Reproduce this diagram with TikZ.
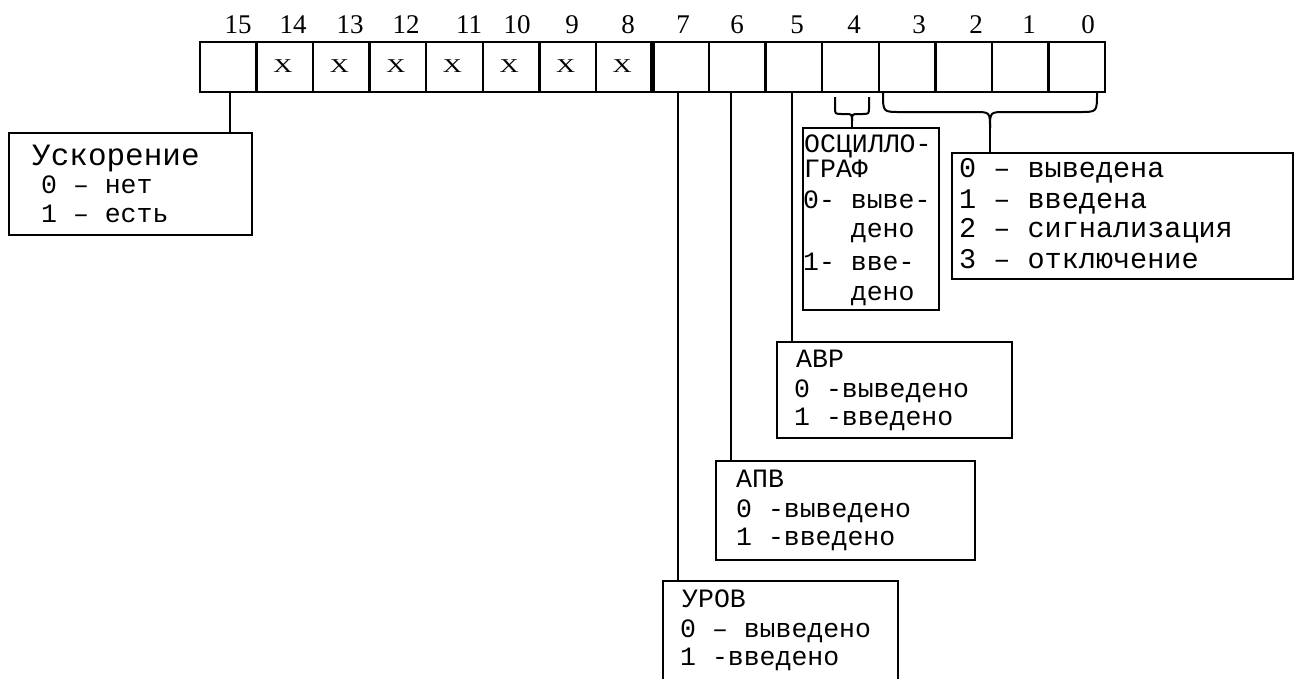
\documentclass[tikz,border=0pt]{standalone}
\usepackage{fontspec}
\usepackage{graphicx}
\setmainfont{Liberation Serif}
\newfontfamily\cour{Liberation Mono}
\usetikzlibrary{calc}
\tikzset{
  cell/.style={draw, line width=2.4pt, minimum width=56.5625pt, minimum height=50pt, inner sep=0pt, outer sep=0pt},
  box/.style={draw, line width=2pt, inner sep=0pt, outer sep=0pt, anchor=north west},
  conn/.style={line width=2pt},
  brace/.style={line width=2pt},
  lbl/.style={font=\cour\fontsize{26.5}{30}\selectfont, anchor=base west, inner sep=0pt},
  biglbl/.style={font=\cour\fontsize{28.5}{30}\selectfont, anchor=base west, inner sep=0pt},
  head/.style={font=\cour\fontsize{31}{34}\selectfont, anchor=base west, inner sep=0pt},
  num/.style={font=\fontsize{27}{30}\selectfont, anchor=base, inner sep=0pt},
  xmark/.style={font=\fontsize{19.6}{24}\selectfont, anchor=base, inner sep=0pt}
}
\begin{document}
\begin{tikzpicture}[x=1pt,y=-1pt]
\useasboundingbox (0,0) rectangle (1301,678);
\clip (0,0) rectangle (1301,678);
% register cells
\foreach \i in {0,...,15} {
  \node[cell] (c\i) at ({200+(15.5-\i)*56.5625},67) {};
}
\draw[line width=5pt] (c8.north east) -- (c8.south east);
% bit numbers
\foreach \i/\x in {15/238,14/293,13/350,12/406,11/469,10/517,9/572,8/628,7/683,6/737,5/797,4/854,3/919,2/976,1/1029,0/1088} {
  \node[num] (n\i) at (\x,33) {\i};
}
% X marks
\foreach \i in {8,...,14} {
  \node[xmark] (x\i) at ({200+(15.5-\i)*56.5625-2},72) {\scalebox{1.35}[1]{X}};
}
% boxes
\node[box, minimum width=243pt, minimum height=102pt] (usk) at (9,133) {};
\node[box, minimum width=136pt, minimum height=182pt] (osc) at (803,128) {};
\node[box, minimum width=341pt, minimum height=126pt] (big) at (952,153) {};
\node[box, minimum width=235pt, minimum height=96pt] (avr) at (777,342) {};
\node[box, minimum width=259pt, minimum height=99pt] (apv) at (716,461) {};
\node[box, minimum width=235pt, minimum height=120pt] (urov) at (663,581) {};
% texts
\node[head] (uskh) at (32,165) {Ускорение};
\node[lbl] (usk0) at (41,193) {0 – нет};
\node[lbl] (usk1) at (41,222) {1 – есть};

\node[lbl] (osc1) at (804,152) {ОСЦИЛЛО-};
\node[lbl] (osc2) at (804,177) {ГРАФ};
\node[lbl] (osc3) at (803,208) {0- выве-};
\node[lbl] (osc4) at (803,237) {\hphantom{0- }дено};
\node[lbl] (osc5) at (803,270) {1- вве-};
\node[lbl] (osc6) at (803,300) {\hphantom{1- }дено};

\node[biglbl] (big0) at (959,177) {0 – выведена};
\node[biglbl] (big1) at (959,208) {1 – введена};
\node[biglbl] (big2) at (959,237) {2 – сигнализация};
\node[biglbl] (big3) at (959,268) {3 – отключение};

\node[lbl] (avrh) at (796,367) {АВР};
\node[lbl] (avr0) at (794,397) {0 -выведено};
\node[lbl] (avr1) at (794,425) {1 -введено};

\node[lbl] (apvh) at (736,487) {АПВ};
\node[lbl] (apv0) at (736,517) {0 -выведено};
\node[lbl] (apv1) at (736,545) {1 -введено};

\node[lbl] (urovh) at (682,607) {УРОВ};
\node[lbl] (urov0) at (680,637) {0 – выведено};
\node[lbl] (urov1) at (680,665) {1 -введено};
% connectors
\coordinate (t15) at ($(c15.south)+(2,0)$);
\coordinate (t7) at ($(c7.south)+(-2.5,0)$);
\coordinate (t6) at ($(c6.south)+(-6,0)$);
\coordinate (t5) at ($(c5.south)+(-2,0)$);
\draw[conn] (t15) -- (t15 |- usk.north);
\draw[conn] (t7) -- (t7 |- urov.north);
\draw[conn] (t6) -- (t6 |- apv.north);
\draw[conn] (t5) -- (t5 |- avr.north);
% small brace over bit 4
\coordinate (tip4) at (852,121);
\draw[brace] (835,97) -- (835,107) .. controls (835,114) .. (842,114) -- (845,114) .. controls (852,114) .. (tip4);
\draw[brace] (869,97) -- (869,107) .. controls (869,114) .. (862,114) -- (859,114) .. controls (852,114) .. (tip4);
\draw[conn] (tip4) -- (tip4 |- osc.north);
% big brace over bits 3..0
\coordinate (tip30) at (990,128);
\draw[brace] (883,93) .. controls (883,112) and (883,112) .. (900,112) -- (974,112) .. controls (990,112) and (990,112) .. (tip30);
\draw[brace] (1097,93) .. controls (1097,112) and (1097,112) .. (1080,112) -- (1006,112) .. controls (990,112) and (990,112) .. (tip30);
\draw[conn] (tip30) -- (tip30 |- big.north);
\end{tikzpicture}
\end{document}
